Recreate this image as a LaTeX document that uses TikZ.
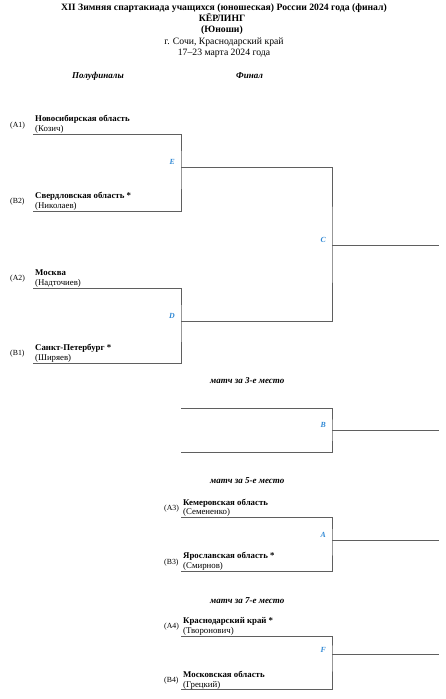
\documentclass[tikz,border=0pt]{standalone}
\usepackage{fontspec}
\setmainfont{Liberation Serif}
\usetikzlibrary{positioning}
\definecolor{linegray}{RGB}{95,95,95}
\definecolor{matchblue}{RGB}{45,135,212}
\tikzset{
  headline/.style={inner sep=0pt, anchor=base, font=\bfseries\fontsize{9.7}{10}\selectfont},
  place/.style={inner sep=0pt, anchor=base, font=\fontsize{9.7}{10}\selectfont},
  stage/.style={inner sep=0pt, anchor=base west, font=\bfseries\itshape\fontsize{9}{9}\selectfont},
  team/.style={inner sep=0pt, anchor=base west, font=\bfseries\fontsize{8.8}{9}\selectfont},
  coach/.style={inner sep=0pt, anchor=base west, font=\fontsize{8.8}{9}\selectfont},
  seed/.style={inner sep=0pt, anchor=base west, font=\fontsize{7.8}{8}\selectfont},
  match/.style={inner sep=0pt, anchor=base east, color=matchblue,
    font=\bfseries\itshape\fontsize{7.8}{8}\selectfont},
  bracket/.style={draw=linegray, line width=1pt}
}
\begin{document}
\begin{tikzpicture}[x=1pt, y=-1pt]
\useasboundingbox (0,0) rectangle (445,699);

% heading
\node (title)  [headline] at (224,10) {XII Зимняя спартакиада учащихся (юношеская) России 2024 года (финал)};
\node (sport)  [headline] at (222,21) {КЁРЛИНГ};
\node (group)  [headline] at (222,32) {(Юноши)};
\node (city)   [place]    at (224,44) {г. Сочи, Краснодарский край};
\node (dates)  [place]    at (224,55) {17--23 марта 2024 года};
\node (semis)  [stage] at (72,78)  {Полуфиналы};
\node (final)  [stage] at (236,78) {Финал};

% semifinal E
\node (a1)  [seed]  at (10,127) {(A1)};
\node (nsk) [team]  at (35,121) {Новосибирская область};
\node (nskc)[coach] at (35,131) {(Козич)};
\node (b2)  [seed]  at (10,203) {(B2)};
\node (svr) [team]  at (35,198) {Свердловская область *};
\node (svrc)[coach] at (35,208) {(Николаев)};
\coordinate (a1L) at (33,134.5);
\coordinate (b2L) at (33,211);
\coordinate (eOut) at (181,167);
\draw[bracket] (a1L) -| (eOut) |- (b2L);
\node (eLbl) [match] at (175,164) {E};

% semifinal D
\node (a2)  [seed]  at (10,280) {(A2)};
\node (msk) [team]  at (35,275) {Москва};
\node (mskc)[coach] at (35,285) {(Надточиев)};
\node (b1)  [seed]  at (10,355) {(B1)};
\node (spb) [team]  at (35,350) {Санкт-Петербург *};
\node (spbc)[coach] at (35,360) {(Ширяев)};
\coordinate (a2L) at (33,288);
\coordinate (b1L) at (33,363);
\coordinate (dOut) at (181,321);
\draw[bracket] (a2L) -| (dOut) |- (b1L);
\node (dLbl) [match] at (175,318) {D};

% final C
\coordinate (cOut) at (332,245);
\coordinate (cEnd) at (439,245);
\draw[bracket] (eOut) -| (cOut) |- (dOut);
\draw[bracket] (cOut) -- (cEnd);
\node (cLbl) [match] at (326,242) {C};

% 3rd place B
\node (third) [stage] at (210,383) {матч за 3-е место};
\coordinate (bTop) at (181,408);
\coordinate (bBot) at (181,452);
\coordinate (bOut) at (332,430);
\coordinate (bEnd) at (439,430);
\draw[bracket] (bTop) -| (bOut) |- (bBot);
\draw[bracket] (bOut) -- (bEnd);
\node (bLbl) [match] at (326,427) {B};

% 5th place A
\node (fifth) [stage] at (210,483) {матч за 5-е место};
\node (a3)  [seed]  at (164,510) {(A3)};
\node (kem) [team]  at (183,505) {Кемеровская область};
\node (kemc)[coach] at (183,514) {(Семененко)};
\node (b3)  [seed]  at (164,564) {(B3)};
\node (yar) [team]  at (183,558) {Ярославская область *};
\node (yarc)[coach] at (183,568) {(Смирнов)};
\coordinate (a3L) at (181,517);
\coordinate (b3L) at (181,571);
\coordinate (aOut) at (332,540);
\coordinate (aEnd) at (439,540);
\draw[bracket] (a3L) -| (aOut) |- (b3L);
\draw[bracket] (aOut) -- (aEnd);
\node (aLbl) [match] at (326,537) {A};

% 7th place F
\node (seventh) [stage] at (210,603) {матч за 7-е место};
\node (a4)  [seed]  at (164,628) {(A4)};
\node (krd) [team]  at (183,623) {Краснодарский край *};
\node (krdc)[coach] at (183,633) {(Творонович)};
\node (b4)  [seed]  at (164,682) {(B4)};
\node (mo)  [team]  at (183,677) {Московская область};
\node (moc) [coach] at (183,687) {(Грецкий)};
\coordinate (a4L) at (181,636);
\coordinate (b4L) at (181,689);
\coordinate (fOut) at (332,654);
\coordinate (fEnd) at (439,654);
\draw[bracket] (a4L) -| (fOut) |- (b4L);
\draw[bracket] (fOut) -- (fEnd);
\node (fLbl) [match] at (326,652) {F};
\end{tikzpicture}
\end{document}
